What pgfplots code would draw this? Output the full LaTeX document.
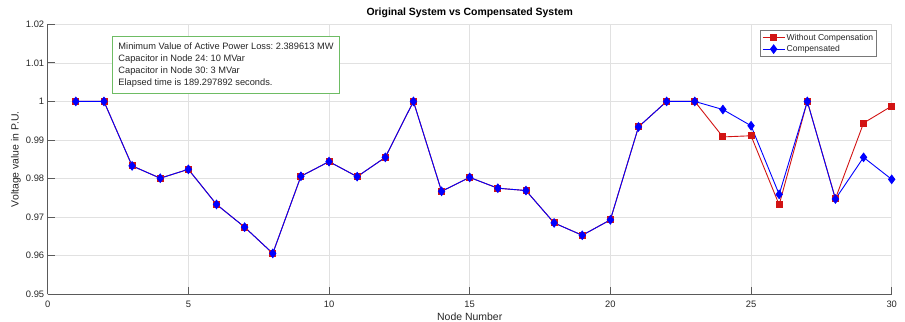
\documentclass[border=0pt]{standalone}
\usepackage{pgfplots}
\pgfplotsset{compat=1.18}
\usepackage{fontspec}
\setmainfont{Liberation Sans}
\usetikzlibrary{calc}
\definecolor{myred}{RGB}{210,20,20}
\definecolor{myblue}{RGB}{0,0,255}
\definecolor{boxgreen}{RGB}{110,188,100}
\definecolor{gridgray}{RGB}{225,225,225}
\definecolor{axgray}{RGB}{90,90,90}
\definecolor{txt}{RGB}{38,38,38}
\definecolor{leggray}{RGB}{120,120,120}

\begin{document}
\frenchspacing
\begin{tikzpicture}
\begin{axis}[
  scale only axis, width=844bp, height=270bp,
  xmin=0, xmax=30, ymin=0.95, ymax=1.02,
  xtick={0,5,10,15,20,25,30},
  xticklabels={0,5,10,15,20,25,30},
  ytick={0.95,0.96,0.97,0.98,0.99,1,1.01,1.02},
  yticklabels={0.95,0.96,0.97,0.98,0.99,1,1.01,1.02},
  axis x line=bottom, axis y line=left,
  axis line style={axgray, line width=0.8bp, -},
  tick align=inside, major tick length=7bp,
  tick style={axgray, line width=0.8bp},
  grid=major, major grid style={gridgray, line width=0.6bp},
  ticklabel style={font=\fontsize{9.4}{11}\selectfont, text=txt},
  xticklabel style={yshift=-3bp},
  title={Original System vs Compensated System},
  title style={font=\bfseries\fontsize{10.5}{12}\selectfont, text=black, at={(axis description cs:0.5,1.0122)}, anchor=base},
  xlabel={Node Number},
  xlabel style={font=\fontsize{10.5}{12}\selectfont, text=txt, at={(axis description cs:0.5,-0.0975)}, anchor=base},
  ylabel={Voltage value in P.U.},
  ylabel style={font=\fontsize{10.5}{12}\selectfont, text=txt, at={(axis description cs:-0.0376,0.5)}, anchor=center},
  legend style={at={(axis description cs:0.9822,0.9778)}, anchor=north east,
    draw=leggray, line width=0.8bp, fill=white,
    font=\fontsize{8.6}{10}\selectfont, text=txt,
    inner sep=1.5bp, row sep=0pt,
    nodes={inner sep=1.5bp, text height=6.5bp, text depth=1.8bp}},
  legend cell align=left,
  legend image code/.code={\draw[mark repeat=2, mark phase=2] plot coordinates {(0bp,0bp) (11bp,0bp) (22bp,0bp)};},
]
\addplot[color=myred, line width=0.9bp, mark=square*, mark size=3bp, mark options={fill=myred, draw=myred}] coordinates {
(1,1.0) (2,1.0) (3,0.9833) (4,0.9801) (5,0.9824) (6,0.9733) (7,0.9674) (8,0.9606)
(9,0.9806) (10,0.9844) (11,0.9805) (12,0.9855) (13,1.0) (14,0.9767) (15,0.9803)
(16,0.9775) (17,0.9769) (18,0.9685) (19,0.9653) (20,0.9693) (21,0.9934) (22,1.0)
(23,1.0) (24,0.9908) (25,0.9911) (26,0.9732) (27,1.0) (28,0.9748) (29,0.9944) (30,0.9988)
};
\addlegendentry{Without Compensation}
\addplot[color=myblue, line width=0.9bp, mark=diamond*, mark size=4.2bp, mark options={fill=myblue, draw=myblue}] coordinates {
(1,1.0) (2,1.0) (3,0.9833) (4,0.9801) (5,0.9824) (6,0.9733) (7,0.9674) (8,0.9606)
(9,0.9806) (10,0.9844) (11,0.9805) (12,0.9855) (13,1.0) (14,0.9767) (15,0.9803)
(16,0.9775) (17,0.9769) (18,0.9685) (19,0.9653) (20,0.9693) (21,0.9934) (22,1.0)
(23,1.0) (24,0.9979) (25,0.9937) (26,0.9759) (27,1.0) (28,0.9747) (29,0.9855) (30,0.9798)
};
\addlegendentry{Compensated}
\node[fill=white, anchor=north west, align=left,
  inner xsep=5.6bp, inner ysep=6bp,
  font=\fontsize{9.3}{12}\selectfont, text=txt] (tb) at (rel axis cs:0.077,0.954)
  {Minimum Value of Active Power Loss: 2.389613 MW\\
   Capacitor in Node 24: 10 MVar\\
   Capacitor in Node 30: 3 MVar\\
   Elapsed time is 189.297892 seconds.};
\draw[color=boxgreen, line width=1.1bp] (tb.south west) rectangle (tb.north east);
\end{axis}
\pgfresetboundingbox
\path[use as bounding box] ($(current axis.south west)+(-47.7bp,-27.7bp)$) rectangle ($(current axis.north east)+(13.3bp,24.3bp)$);
\end{tikzpicture}
\end{document}
